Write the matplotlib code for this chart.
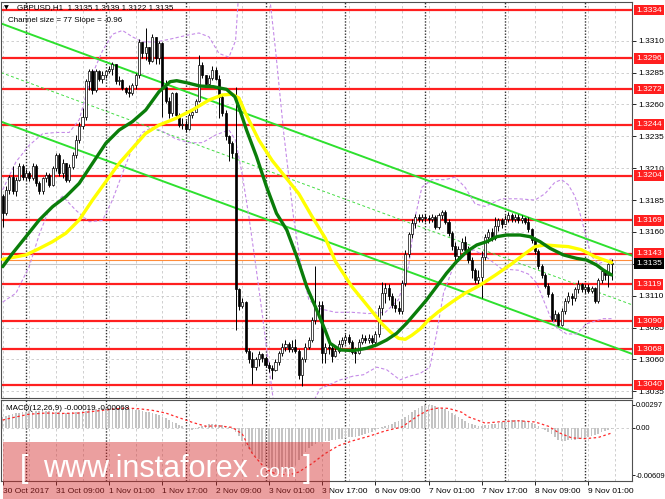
import numpy as np
import matplotlib
matplotlib.use("Agg")
import matplotlib.pyplot as plt
from matplotlib.patches import Rectangle
from matplotlib.transforms import blended_transform_factory

plt.rcParams['font.family'] = ['Liberation Sans', 'DejaVu Sans']

W, H = 665, 499
BASE = 1.3          # candle / MA values below are pips above 1.3000
PIP = 0.0001

# --- GBPUSD H1 candles, 30 Oct 17:00 .. 9 Nov 08:00 (open = previous close)
first_open = 188
close = [
    175, 193, 203, 192, 201, 212, 203, 206, 202, 212,
    198, 192, 202, 205, 197, 210, 220, 206, 214, 201,
    211, 220, 232, 243, 250, 278, 286, 271, 286, 280,
    283, 286, 288, 292, 278, 279, 273, 270, 269, 275,
    283, 309, 300, 305, 294, 313, 296, 308, 274, 263,
    253, 269, 252, 244, 245, 241, 252, 254, 263, 291,
    283, 276, 281, 287, 280, 266, 253, 235, 230, 222,
    115, 102, 105, 67, 60, 54, 60, 64, 61, 56,
    53, 52, 58, 65, 70, 72, 68, 70, 67, 48,
    60, 70, 75, 91, 102, 103, 65, 70, 69, 63,
    67, 72, 75, 78, 74, 66, 65, 74, 77, 75,
    77, 74, 80, 100, 112, 116, 110, 103, 100, 98,
    120, 143, 158, 167, 172, 170, 172, 171, 170, 172,
    164, 173, 176, 168, 159, 149, 141, 147, 152, 146,
    138, 130, 122, 125, 140, 156, 160, 155, 165, 169,
    166, 170, 173, 170, 172, 169, 171, 168, 162, 154,
    145, 133, 126, 118, 111, 92, 96, 87, 98, 106,
    110, 108, 115, 119, 115, 117, 114, 116, 106, 122,
    129, 126, 135, 135]
high = [
    190, 196, 205, 212, 203, 214, 213, 209, 208, 214,
    213, 200, 203, 207, 206, 212, 222, 222, 217, 214,
    213, 223, 236, 246, 257, 280, 288, 288, 288, 287,
    286, 287, 290, 293, 292, 282, 280, 274, 275, 277,
    285, 311, 309, 320, 305, 315, 313, 310, 309, 279,
    266, 270, 270, 253, 249, 248, 253, 256, 264, 299,
    293, 283, 283, 290, 289, 283, 267, 256, 236, 231,
    274, 116, 108, 106, 69, 66, 62, 67, 65, 63,
    58, 56, 60, 67, 73, 75, 74, 75, 76, 68,
    62, 73, 78, 93, 133, 106, 106, 73, 74, 71,
    70, 75, 78, 80, 80, 75, 70, 76, 80, 79,
    80, 79, 82, 103, 121, 120, 119, 112, 108, 106,
    122, 146, 160, 170, 174, 174, 174, 174, 173, 174,
    173, 175, 177, 177, 170, 161, 152, 149, 155, 157,
    149, 140, 132, 130, 145, 158, 162, 163, 172, 171,
    171, 173, 176, 175, 174, 174, 173, 172, 172, 163,
    156, 147, 135, 128, 120, 113, 99, 97, 100, 108,
    113, 112, 117, 122, 120, 119, 119, 118, 117, 124,
    131, 130, 136, 139]
low = [
    164, 173, 190, 190, 188, 200, 201, 201, 200, 201,
    196, 190, 190, 199, 195, 196, 208, 204, 202, 199,
    199, 209, 218, 230, 241, 248, 271, 268, 270, 278,
    277, 281, 285, 283, 276, 275, 271, 268, 266, 267,
    272, 281, 296, 295, 292, 293, 292, 292, 250, 261,
    249, 251, 250, 242, 241, 238, 240, 249, 254, 262,
    281, 274, 275, 279, 279, 249, 251, 232, 216, 218,
    83, 99, 100, 65, 57, 41, 52, 55, 58, 54,
    50, 45, 51, 56, 63, 67, 66, 66, 65, 45,
    39, 58, 68, 74, 88, 92, 57, 57, 64, 58,
    62, 65, 70, 72, 72, 64, 57, 64, 72, 73,
    73, 72, 71, 78, 95, 104, 107, 100, 97, 96,
    96, 118, 140, 155, 163, 168, 168, 168, 167, 168,
    162, 162, 170, 166, 157, 146, 138, 137, 145, 144,
    136, 124, 120, 118, 108, 138, 151, 153, 154, 161,
    163, 166, 168, 168, 168, 167, 167, 166, 160, 151,
    143, 131, 124, 116, 109, 90, 90, 86, 86, 96,
    104, 103, 106, 112, 113, 112, 112, 112, 104, 104,
    120, 122, 117, 122]

# --- moving averages (bar, pips)
yellow_x = [0, 7, 11, 15, 19, 23, 27, 31, 35, 39, 43, 47, 52, 57, 62, 66, 69, 71, 73, 77,
            81, 85, 89, 93, 97, 100, 105, 110, 114, 117, 119, 121, 123, 125.5, 128, 131,
            135, 139, 143, 148, 153, 157, 160, 163, 167, 170, 174, 178, 183]
yellow_y = [138.5, 142, 147, 152.4, 159, 169.4, 185, 199.4, 213.8, 225.6, 237.3, 243.8, 249,
            255.6, 263.4, 267.4, 268, 265, 253, 232, 216, 203, 190, 172, 155, 137, 117, 101,
            88, 80.5, 76.6, 75.8, 79, 84, 91, 97.5, 105, 112, 117.5, 126, 135, 143, 148.5,
            149.8, 149, 148.5, 146, 140.6, 136]
green_x = [0, 3, 7, 11, 15, 19, 23, 27, 31, 35, 39, 43, 47, 48.8, 50.3, 52.3, 55.3, 59.3,
           63.3, 67.3, 69.8, 71.3, 73.3, 76.3, 79.3, 82.3, 85.4, 88.4, 91.4, 94.4, 96.9, 98.4,
           101.4, 105.4, 109.4, 112.4, 115.4, 118.4, 121.4, 124.4, 127.4, 130.4, 133.4, 136.4,
           139.4, 142.5, 145.5, 148.5, 151.5, 155.5, 158.5, 161.5, 164.5, 168.5, 172.5, 175.5,
           178.5, 180.5, 183]
green_y = [132.8, 143.3, 156.3, 169.4, 179.8, 187.7, 198.1, 213.8, 229.5, 239.9, 246.5, 255.6,
           270, 274, 277.8, 278.6, 277, 274.4, 273.9, 271.8, 266, 255.6, 239.9, 219, 195.5,
           174.6, 161.5, 140.6, 117, 98.8, 83.1, 72.7, 67.5, 67, 68.8, 71.4, 75.3, 80.5, 88.4,
           97.5, 106.7, 117.1, 127.6, 136.7, 144.5, 149.8, 152.4, 156.3, 157.6, 157.6, 156.3,
           152.4, 147.2, 142, 139.3, 138, 134.1, 130.2, 126.3]

# --- bands (violet dashed)
bbu_x = [0, 4, 8, 12, 16, 20, 23, 26, 28, 30, 33, 36, 39, 42, 46, 50, 55, 59, 62, 65, 68, 70,
         71, 80, 82, 84.5, 87.4, 89.4, 92, 95, 100, 105, 110, 115, 119, 122, 124, 126, 129,
         133, 136, 139, 142, 145, 150, 155, 160, 163, 166, 168, 170, 172, 174, 176, 177, 179,
         181, 183]
bbu_y = [193, 215, 228, 237, 238, 238, 248, 276, 290, 302, 315, 318, 313, 309, 309, 311, 314,
         316, 313, 300, 297, 310, 350, 350, 303, 237, 172, 138, 107, 100, 97, 97, 96, 97, 107,
         133, 172, 195, 201, 201, 203, 195, 182, 180, 186, 186, 185, 190, 199, 201, 197, 188,
         170, 150, 141, 135, 137, 139]
bbl_x = [0, 4, 8, 11, 14, 18, 22, 26, 30, 33, 36, 39, 42, 45, 48, 52, 56, 60, 64, 68, 70, 72,
         74, 76, 78, 80, 82, 86, 90, 93, 95.4, 101.4, 105.4, 108.4, 112.4, 115.4, 119.4, 122.4,
         125.4, 128.4, 130.4, 132.5, 135.5, 138.5, 141.5, 145, 150, 155, 158, 160.5, 162.5,
         164.5, 166.5, 169.5, 172.5, 175.5, 180.5, 183]
bbl_y = [105, 112, 133, 158, 178, 188, 177, 168, 169, 185, 206, 226, 238, 242, 239, 233, 230,
         230, 236, 240, 232, 205, 172, 135, 96, 55, 15, -20, 0, 25, 37, 44, 47, 48, 54, 52, 44,
         47, 49, 54, 80, 112, 133, 141, 146, 141, 131, 130, 127, 120, 107, 94, 85, 80, 80, 88,
         92, 92]

# --- regression channel
channel_top0 = 1.3323      # upper line at first bar
channel_slope = -0.96      # pips per bar
channel_size = 77          # pips

# --- horizontal levels
levels = [1.3334, 1.3296, 1.3272, 1.3244, 1.3204, 1.3169, 1.3143, 1.3119, 1.3090, 1.3068, 1.3040]
bid = 1.3135
ask = 1.3138
price_ticks = [1.3035, 1.3060, 1.3085, 1.3110, 1.3135, 1.3160, 1.3185, 1.3210, 1.3235,
               1.3260, 1.3285, 1.3310]

# --- MACD(12,26,9), units of 1e-5
macd_hist = [
    134, 150, 165, 180, 188, 196, 202, 207, 210, 213,
    215, 216, 215, 213, 210, 207, 204, 200, 196, 194,
    195, 198, 202, 207, 215, 222, 230, 237, 242, 246,
    249, 250, 252, 252, 251, 250, 248, 245, 241, 237,
    232, 225, 216, 207, 198, 188, 176, 164, 145, 125,
    102, 80, 60, 40, 20, 0, -15, -30, -20, 10,
    25, 35, 45, 50, 48, 40, 30, 20, 10, -10,
    -60, -110, -170, -230, -280, -320, -360, -400, -445, -490,
    -520, -550, -570, -580, -582, -575, -555, -520, -475, -420,
    -365, -310, -265, -230, -205, -188, -180, -172, -165, -160,
    -155, -150, -145, -135, -125, -120, -115, -105, -95, -85,
    -70, -50, -30, -10, 10, 25, 40, 55, 70, 90,
    115, 140, 170, 200, 230, 255, 275, 288, 297, 292,
    283, 270, 255, 238, 218, 192, 165, 135, 110, 85,
    65, 45, 30, 25, 25, 30, 38, 45, 55, 62,
    72, 82, 88, 95, 100, 98, 95, 90, 80, 65,
    45, 25, 0, -25, -50, -85, -120, -160, -170, -168,
    -162, -158, -152, -150, -145, -135, -125, -110, -95, -75,
    -55, -40, -28, -19]
signal_x = [0, 4, 8, 13, 18, 23, 28, 33, 37, 41, 45, 49, 53, 57, 61, 65, 69, 72, 75, 79, 82,
            86, 89, 93, 97, 101, 105, 110, 115, 120, 125, 128, 131, 134, 138, 140, 142, 145,
            150, 155, 160, 164, 167, 171, 175, 179, 183]
signal_y = [100, 140, 175, 190, 185, 190, 215, 240, 255, 245, 225, 190, 130, 70, 20, 25, 5,
            -80, -330, -530, -595, -609, -570, -460, -330, -230, -170, -110, -40, 10, 160,
            230, 255, 250, 200, 140, 110, 60, 80, 90, 75, 20, -60, -130, -140, -125, -68]

tick_bars = [0, 16, 32, 48, 64, 80, 96, 112, 128, 144, 160, 176]
tick_labels = ["30 Oct 2017", "31 Oct 09:00", "1 Nov 01:00", "1 Nov 17:00", "2 Nov 09:00",
               "3 Nov 01:00", "3 Nov 17:00", "6 Nov 09:00", "7 Nov 01:00", "7 Nov 17:00",
               "8 Nov 09:00", "9 Nov 01:00"]
separator_bars = [7, 31, 55, 79, 103, 127, 151, 175]
grid_step = 8


def fx(px):
    return px / W


def fy(py):
    return 1 - py / H


def to_price(v):
    return BASE + np.asarray(v, dtype=float) * PIP


fig = plt.figure(figsize=(W / 100, H / 100), dpi=100)
ax = fig.add_axes([fx(1), fy(398), 631 / W, 396 / H])
axm = fig.add_axes([fx(1), fy(481), 631 / W, 81 / H])

n = len(close)
x = np.arange(n)
cl = to_price(close)
op = to_price([first_open] + close[:-1])
hi = to_price(high)
lo = to_price(low)
xmin, xmax = -0.5, 189.15

# grid + separators in both panels
for a in (ax, axm):
    for b in range(0, n + 1, grid_step):
        a.axvline(b, color='#c8c8c8', lw=0.6, ls=(0, (3, 3)), zorder=0)
    for b in separator_bars:
        a.axvline(b, color='#303030', lw=1.0, ls=(0, (1, 1.2)), zorder=0.5)
for p in price_ticks:
    ax.axhline(p, color='#c8c8c8', lw=0.6, ls=(0, (3, 3)), zorder=0)

# levels
for lv in levels:
    ax.axhline(lv, color='#ff1f1f', lw=1.6, zorder=1)
ax.axhline(ask, color='#ff8c3a', lw=0.8, zorder=1)
ax.axhline(bid, color='#c8c8c8', lw=0.8, zorder=1)

# channel
cx = np.array([xmin, xmax])
top = channel_top0 + channel_slope * PIP * cx
ax.plot(cx, top, color='#2ee02e', lw=1.4, zorder=2)
ax.plot(cx, top - channel_size * PIP, color='#2ee02e', lw=1.4, zorder=2)
ax.plot(cx, top - channel_size * PIP / 2, color='#44dd44', lw=0.7, ls=(0, (3, 2.5)), zorder=2)

# bands
ax.plot(bbu_x, to_price(bbu_y), color='#c58be8', lw=0.8, ls=(0, (3, 2)), zorder=2)
ax.plot(bbl_x, to_price(bbl_y), color='#c58be8', lw=0.8, ls=(0, (3, 2)), zorder=2)

# candles
ax.vlines(x, lo, hi, color='black', lw=0.7, zorder=3)
bull = cl >= op
body = np.maximum(np.abs(cl - op), 0.00004)
ax.bar(x, body, bottom=np.minimum(op, cl), width=0.62,
       color=np.where(bull, 'white', 'black'), edgecolor='black', linewidth=0.5, zorder=4)

# moving averages
ax.plot(yellow_x, to_price(yellow_y), color='#ffff00', lw=2.4, zorder=5, solid_capstyle='round')
ax.plot(green_x, to_price(green_y), color='#0a7d0a', lw=2.4, zorder=5, solid_capstyle='round')

ax.set_xlim(xmin, xmax)
ax.set_ylim(1.30298, 1.33403)
ax.set_xticks([])
ax.yaxis.tick_right()
ax.set_yticks(price_ticks)
# the 1.3135 tick sits under the black bid label
ax.set_yticklabels(["" if abs(p - bid) < 1e-6 else f"{p:.4f}" for p in price_ticks])
ax.tick_params(axis='y', length=3, width=0.6, pad=1.5, labelsize=6, colors='black')

trans = blended_transform_factory(ax.transAxes, ax.transData)
for lv in levels:
    ax.text(1.0065, lv, f"{lv:.4f}", transform=trans, fontsize=6, color='white',
            va='center', ha='left', clip_on=False, zorder=10,
            bbox=dict(boxstyle='square,pad=0.22', fc='#ff1f1f', ec='none'))
ax.text(1.0065, bid, f"{bid:.4f}", transform=trans, fontsize=6, color='white',
        va='center', ha='left', clip_on=False, zorder=10,
        bbox=dict(boxstyle='square,pad=0.22', fc='black', ec='none'))

# MACD panel
axm.bar(x, np.array(macd_hist) * 1e-5, width=0.5, color='#c4c4c4', zorder=2)
axm.axhline(0, color='#c8c8c8', lw=0.6, ls=(0, (3, 3)), zorder=1)
axm.plot(signal_x, np.array(signal_y) * 1e-5, color='#ff2a2a', lw=0.9, ls=(0, (2, 2)), zorder=3)
axm.set_xlim(xmin, xmax)
axm.set_ylim(-0.00686, 0.00358)
axm.yaxis.tick_right()
axm.set_yticks([0.00297, 0.0, -0.00609])
axm.set_yticklabels(["0.00297", "0.00", "-0.00609"])
axm.tick_params(axis='y', length=2, width=0.6, pad=0.8, labelsize=5.4)
axm.set_xticks(tick_bars)
axm.set_xticklabels(tick_labels)
axm.tick_params(axis='x', length=3, width=0.6, pad=2, labelsize=6)
for lab in axm.get_xticklabels():
    lab.set_ha('left')

for a in (ax, axm):
    for s in a.spines.values():
        s.set_color('#505050')
        s.set_linewidth(0.8)

# header texts
fig.text(fx(4), fy(8), "\u25bc", fontsize=4.5, family='DejaVu Sans', va='center', ha='left')
fig.text(fx(17), fy(8), "GBPUSD,H1  1.3135 1.3139 1.3122 1.3135", fontsize=5.8,
         va='center', ha='left', zorder=20)
fig.text(fx(8), fy(20), "Channel size = 77 Slope = -0.96", fontsize=5.8, va='center', ha='left')
fig.text(fx(6), fy(408), "MACD(12,26,9) -0.00019 -0.00068", fontsize=5.8, va='center', ha='left')

# watermark
fig.add_artist(Rectangle((fx(3), fy(499)), 327 / W, 57 / H, transform=fig.transFigure,
                         facecolor='#d42a2a', alpha=0.45, edgecolor='none', zorder=30))
fig.text(fx(20), fy(477), "[", fontsize=22, color='white', va='baseline', ha='left', zorder=31)
fig.text(fx(43), fy(477), "www.instaforex", fontsize=22, color='white', va='baseline',
         ha='left', zorder=31)
fig.text(fx(254), fy(477), ".com", fontsize=14, color='white', va='baseline', ha='left', zorder=31)
fig.text(fx(303), fy(477), "]", fontsize=22, color='white', va='baseline', ha='left', zorder=31)

fig.savefig("out.png", dpi=100)
